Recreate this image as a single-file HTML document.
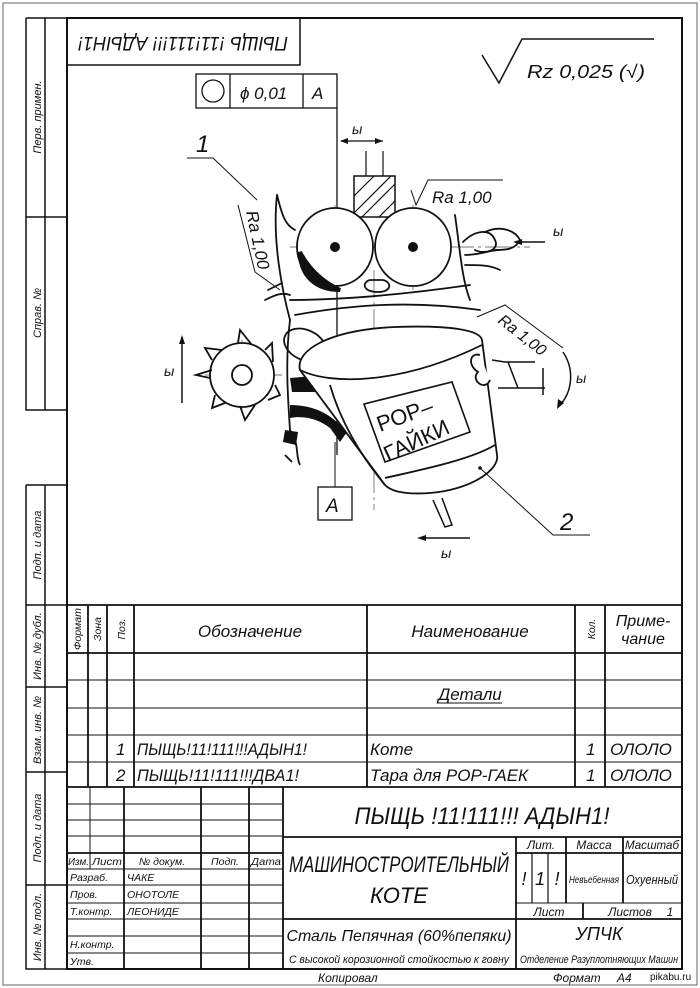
<!DOCTYPE html>
<html><head><meta charset="utf-8"><style>
html,body{margin:0;padding:0;background:#fff;}
svg{display:block;}
text{font-family:"Liberation Sans","Noto Sans CJK SC",sans-serif;font-style:italic;fill:#111;}
</style></head><body>
<svg width="700" height="988" viewBox="0 0 700 988" xmlns="http://www.w3.org/2000/svg">
<rect x="3" y="3" width="694" height="982" fill="none" stroke="#666" stroke-width="1"/>
<rect x="67" y="18" width="615" height="951" fill="none" stroke="#111" stroke-width="2"/>
<g stroke="#111" stroke-width="1.5" fill="none">
<path d="M26 18V410H67M45 18V410M26 18H67M26 217H67"/>
<path d="M26 485V969H67M45 485V969M26 485H67M26 605H67M26 687H67M26 772H67M26 885H67"/>
</g>
<g font-size="11">
<text transform="translate(41,117) rotate(-90)" text-anchor="middle">Перв. примен.</text>
<text transform="translate(41,313) rotate(-90)" text-anchor="middle">Справ. №</text>
<text transform="translate(41,545) rotate(-90)" text-anchor="middle">Подп. и дата</text>
<text transform="translate(41,646) rotate(-90)" text-anchor="middle">Инв. № дубл.</text>
<text transform="translate(41,730) rotate(-90)" text-anchor="middle">Взам. инв. №</text>
<text transform="translate(41,828) rotate(-90)" text-anchor="middle">Подп. и дата</text>
<text transform="translate(41,927) rotate(-90)" text-anchor="middle">Инв. № подл.</text>
</g>
<path d="M67 65H300V18" fill="none" stroke="#111" stroke-width="1.5"/>
<text transform="translate(183,42) rotate(180)" text-anchor="middle" dominant-baseline="middle" font-size="19" textLength="210" lengthAdjust="spacingAndGlyphs">ПЫЩЬ !11!111!!! АДЫН1!</text>
<path d="M482 55L499 83L522 39H654" fill="none" stroke="#111" stroke-width="1.5"/>
<text x="527" y="78" font-size="18" textLength="118" lengthAdjust="spacingAndGlyphs">Rz 0,025 (√)</text>
<g stroke="#111" stroke-width="1.3" fill="none">
<rect x="196" y="74" width="141" height="34"/>
<path d="M230 74V108M303 74V108"/>
<circle cx="213" cy="91" r="11"/>
<path d="M337 108V455"/>
</g>
<text x="240" y="99" font-size="17">ϕ 0,01</text>
<text x="312" y="99" font-size="17">A</text>
<g stroke="#111" stroke-width="1.2" fill="none">
<path d="M341 141H383M366 151V176M383 151V176"/>
<rect x="354" y="176" width="41" height="41" stroke-width="1.5"/>
<path d="M354 196L374 176M354 213L391 176M362 217L395 184M379 217L395 201" />
</g>
<path d="M340 141l8-3v6zM383 141l-8-3v6z" fill="#111"/>
<text x="352" y="134" font-size="14">ы</text>
<text x="196" y="152" font-size="24">1</text>
<path d="M187 158H213L257 200" fill="none" stroke="#111" stroke-width="1"/>
<path d="M238 205L255 272L280 290" fill="none" stroke="#111" stroke-width="1"/>
<text transform="translate(246,212) rotate(78)" font-size="17">Ra 1,00</text>
<path d="M411 190L416 205L428 180H503" fill="none" stroke="#111" stroke-width="1"/>
<text x="432" y="203" font-size="17">Ra 1,00</text>
<g stroke="#777" stroke-width="0.9" fill="none">
<path d="M290 247H530" stroke-dasharray="28 4 3 4"/>
<path d="M374 270V510" stroke-dasharray="28 4 3 4"/>
<path d="M335 205V290M413 205V290M205 375H282M242 340V410"/>
</g>
<g stroke="#111" stroke-width="1.8" fill="none" stroke-linecap="round">
<path d="M277 195C282 215 285 225 295 230"/>
<path d="M277 195C272 240 282 290 290 320"/>
<path d="M290 320C285 360 288 400 290 430"/>
<path d="M455 215C460 250 462 280 470 300"/>
<ellipse cx="335" cy="247" rx="38" ry="39" fill="#fff"/>
<ellipse cx="413" cy="247" rx="38" ry="39" fill="#fff"/>
<path d="M370 280C362 282 362 292 378 292C392 292 392 282 383 280Z"/>
<path d="M290 300C340 300 400 295 470 285"/>
<path d="M295 315C350 305 410 300 480 310"/>
<path d="M465 255C480 255 490 250 500 250M465 265C480 265 490 265 500 270"/>
<path d="M463 242C475 230 490 228 495 240C500 250 485 255 475 250M485 232C500 225 515 230 520 240C515 250 505 250 495 250"/>
<path d="M265 300C275 295 282 292 290 295M268 290L282 283"/>
</g>
<path d="M300 252C300 275 315 290 340 290C330 285 312 275 300 252Z" fill="#111" stroke="#111" stroke-width="4"/>
<circle cx="335" cy="247" r="5" fill="#111"/>
<circle cx="413" cy="247" r="5" fill="#111"/>
<path d="M515 242H545" stroke="#111" stroke-width="1.5"/>
<path d="M513 242l9-3v6z" fill="#111"/>
<text x="553" y="236" font-size="14">ы</text>
<g stroke="#111" stroke-width="1.8" fill="#fff">
<circle cx="242" cy="375" r="32"/>
<circle cx="242" cy="375" r="10"/>
<path d="M212 360L205 348L222 350M238 343L240 330L252 345M265 350L272 343L273 362M275 385L280 395L268 400M255 405L245 420L240 406M225 403L212 408L215 395M210 378L196 375L212 370" fill="none"/>
</g>
<path d="M182 403V337" stroke="#111" stroke-width="1.5"/>
<path d="M182 335l-3 9h6z" fill="#111"/>
<text x="164" y="376" font-size="14">ы</text>
<g stroke="#111" stroke-width="1.8" fill="none">
<ellipse cx="305" cy="345" rx="22" ry="15" transform="rotate(25 305 345)"/>
<path d="M320 355H345V380M345 345H358L362 355L352 362"/>
<path d="M290 430C300 445 295 455 300 465M285 455L292 462"/>
</g>
<path d="M290 378L325 375L330 392L292 392Z" fill="#111"/>
<path d="M290 405C315 405 330 415 340 425L330 428C320 420 305 415 290 418Z" fill="#111"/>
<path d="M328 425L352 425L340 442Z" fill="#111"/>
<path d="M285 430L298 432L296 445L283 442Z" fill="#111"/>
<path d="M335 442V487" stroke="#111" stroke-width="1"/>
<rect x="318" y="487" width="34" height="33" fill="none" stroke="#111" stroke-width="1.3"/>
<text x="326" y="512" font-size="19">A</text>
<g stroke="#111" stroke-width="1.8" fill="#fff">
<path d="M300 370C295 350 330 330 395 327C450 325 480 330 482 340L497 455C500 470 470 490 430 493C400 495 390 490 385 485Z"/>
<path d="M300 370C330 385 400 385 482 345" fill="none"/>
<path d="M385 478C420 470 470 460 495 445" fill="none"/>
<path d="M330 385C340 420 360 455 385 485" fill="none"/>
<path d="M364 404L452 382L470 432L385 462Z" fill="#fff" stroke-width="1.6"/>
<path d="M480 355C470 352 467 365 478 372C470 380 485 392 490 380" fill="#fff"/>
<path d="M492 360L505 362H535M498 388H545M543 368V395M508 362L518 388" fill="none" stroke-width="1.5"/>
<path d="M433 500L445 527L452 525L442 498" fill="none" stroke-width="1.5"/>
</g>
<text transform="translate(380,432) rotate(-20)" font-size="22" style="font-style:normal">РОР–</text>
<text transform="translate(388,462) rotate(-25)" font-size="22" style="font-style:normal">ГАЙКИ</text>
<circle cx="480" cy="468" r="1.8" fill="#111"/>
<path d="M480 468L553 535H590" fill="none" stroke="#111" stroke-width="1"/>
<text x="560" y="530" font-size="24">2</text>
<path d="M477 317L505 305L563 348" fill="none" stroke="#111" stroke-width="1"/>
<text transform="translate(497,322) rotate(38)" font-size="16">Ra 1,00</text>
<path d="M563 352C575 370 572 392 560 405" fill="none" stroke="#111" stroke-width="1.5"/>
<path d="M557 409l1-10l6 4z" fill="#111"/>
<text x="576" y="383" font-size="14">ы</text>
<path d="M420 538H470" stroke="#111" stroke-width="1.5"/>
<path d="M417 538l9-3v6z" fill="#111"/>
<text x="441" y="558" font-size="14">ы</text>
<g stroke="#111" stroke-width="1.8" fill="none">
<path d="M67 605H682M67 653H682M67 787H682"/>
<path d="M88 605V787M107 605V787M134 605V787M367 605V787M575 605V787M605 605V787"/>
</g>
<g stroke="#111" stroke-width="1" fill="none">
<path d="M67 680H682M67 708H682M67 735H682M67 762H682"/>
</g>
<g font-size="10.5">
<text transform="translate(81,629) rotate(-90)" text-anchor="middle" textLength="42" lengthAdjust="spacingAndGlyphs">Формат</text>
<text transform="translate(101,629) rotate(-90)" text-anchor="middle">Зона</text>
<text transform="translate(125,629) rotate(-90)" text-anchor="middle">Поз.</text>
<text transform="translate(595,629) rotate(-90)" text-anchor="middle">Кол.</text>
</g>
<text x="250" y="637" font-size="17" text-anchor="middle">Обозначение</text>
<text x="470" y="637" font-size="17" text-anchor="middle">Наименование</text>
<text x="643" y="626" font-size="16" text-anchor="middle">Приме-</text>
<text x="643" y="644" font-size="16" text-anchor="middle">чание</text>
<text x="470" y="700" font-size="17" text-anchor="middle">Детали</text>
<path d="M438 703H502" stroke="#111" stroke-width="1"/>
<g font-size="17">
<text x="116" y="755">1</text><text x="137" y="755" textLength="170" lengthAdjust="spacingAndGlyphs">ПЫЩЬ!11!111!!!АДЫН1!</text>
<text x="370" y="755">Коте</text><text x="586" y="755">1</text><text x="610" y="755">ОЛОЛО</text>
<text x="116" y="781">2</text><text x="137" y="781" textLength="162" lengthAdjust="spacingAndGlyphs">ПЫЩЬ!11!111!!!ДВА1!</text>
<text x="370" y="781">Тара для РОР-ГАЕК</text><text x="586" y="781">1</text><text x="610" y="781">ОЛОЛО</text>
</g>
<g stroke="#111" stroke-width="1" fill="none">
<path d="M67 804H283M67 820H283M67 836H283M67 869H283M67 885H283M67 903H283M67 919H283M67 936H283M67 953H283"/>
<path d="M90 787V869M516 903H682"/>
</g>
<g stroke="#111" stroke-width="1.8" fill="none">
<path d="M67 853H283M124 787V969M201 787V969M249 787V969M283 787V969"/>
<path d="M283 837H682M283 919H682M516 837V969M516 853H682M566 837V903M623 837V903M583 903V919"/>
<path d="M532 853V903M548 853V903" stroke-width="1.2"/>
</g>
<g font-size="10.5">
<text x="68" y="865" textLength="21" lengthAdjust="spacingAndGlyphs">Изм.</text><text x="92" y="865" textLength="30" lengthAdjust="spacingAndGlyphs">Лист</text>
<text x="162" y="865" text-anchor="middle">№ докум.</text>
<text x="225" y="865" text-anchor="middle">Подп.</text><text x="266" y="865" text-anchor="middle" textLength="30" lengthAdjust="spacingAndGlyphs">Дата</text>
<text x="70" y="881">Разраб.</text><text x="127" y="881">ЧАКЕ</text>
<text x="70" y="898">Пров.</text><text x="127" y="898">ОНОТОЛЕ</text>
<text x="70" y="915">Т.контр.</text><text x="127" y="915">ЛЕОНИДЕ</text>
<text x="70" y="948">Н.контр.</text><text x="70" y="965">Утв.</text>
</g>
<text x="482" y="824" font-size="24" text-anchor="middle" textLength="255" lengthAdjust="spacingAndGlyphs">ПЫЩЬ !11!111!!! АДЫН1!</text>
<text x="399" y="872" font-size="22" text-anchor="middle" textLength="220" lengthAdjust="spacingAndGlyphs">МАШИНОСТРОИТЕЛЬНЫЙ</text>
<text x="399" y="903" font-size="22" text-anchor="middle">КОТЕ</text>
<g font-size="12" text-anchor="middle">
<text x="541" y="849">Лит.</text><text x="594" y="849">Масса</text><text x="652" y="849" textLength="54" lengthAdjust="spacingAndGlyphs">Масштаб</text>
<text x="549" y="916">Лист</text><text x="630" y="916">Листов</text><text x="670" y="916">1</text>
</g>
<g font-size="18" text-anchor="middle">
<text x="524" y="885">!</text><text x="540" y="885">1</text><text x="557" y="885">!</text>
</g>
<text x="594" y="883" font-size="10" text-anchor="middle" textLength="50" lengthAdjust="spacingAndGlyphs">Невъебенная</text>
<text x="652" y="884" font-size="13" text-anchor="middle" textLength="52" lengthAdjust="spacingAndGlyphs">Охуенный</text>
<text x="399" y="941" font-size="16" text-anchor="middle" textLength="225" lengthAdjust="spacingAndGlyphs">Сталь Пепячная (60%пепяки)</text>
<text x="399" y="963" font-size="11" text-anchor="middle" textLength="220" lengthAdjust="spacingAndGlyphs">С высокой корозионной стойкостью к говну</text>
<text x="599" y="940" font-size="18" text-anchor="middle">УПЧК</text>
<text x="599" y="963" font-size="11" text-anchor="middle" textLength="158" lengthAdjust="spacingAndGlyphs">Отделение Разуплотняющих Машин</text>
<text x="318" y="982" font-size="12">Копировал</text>
<text x="553" y="982" font-size="12">Формат</text><text x="617" y="982" font-size="12">А4</text>
<text x="650" y="980" font-size="10" style="font-style:normal" fill="#555">pikabu.ru</text>
</svg>
</body></html>
